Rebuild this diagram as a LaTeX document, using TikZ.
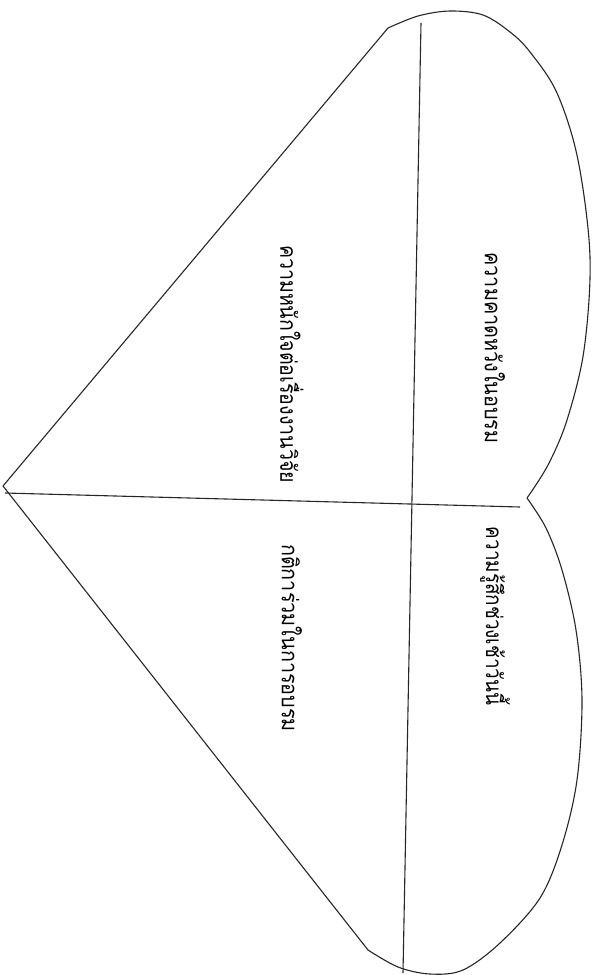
\documentclass[tikz,border=0pt]{standalone}
\usepackage{fontspec}
\newfontfamily\thaifont[Script=Thai]{Loma}
\tikzset{
  outline/.style={draw=black!85, line width=1.1pt, line join=round},
  label/.style={font=\thaifont\fontsize{22.5}{22.5}\selectfont, rotate=-90, inner sep=0pt}
}
\begin{document}
\begin{tikzpicture}[x=1pt,y=-1pt]
\useasboundingbox (0,0) rectangle (601,975);
\fill[white] (0,0) rectangle (601,975);
\coordinate (tip) at (3,486);
\coordinate (ul) at (388,28);
\coordinate (notch) at (527,498);
\coordinate (ll) at (368,950);
\coordinate (hl) at (5,493);
\coordinate (hr) at (520,507);
\coordinate (vt) at (421,23);
\coordinate (vb) at (403,973);
% heart outline
\draw[outline] (tip) -- (ul)
  plot[smooth, tension=0.55] coordinates {(388,28) (418,16) (450,11) (483,15) (510,32) (530,52) (557,93) (578,160) (590,257) (584,350) (567,420) (548,465) (527,498)}
  plot[smooth, tension=0.55] coordinates {(527,498) (546,528) (562,570) (576,630) (582,700) (577,780) (562,845) (540,898) (500,943) (463,970) (430,974) (398,967) (368,950)}
  -- (tip);
% axes
\draw[outline] (hl) -- (hr);
\draw[outline] (vt) -- (vb);
% labels
\node[label] (t1) at (495,348) {\scalebox{0.88}[1]{ความคาดหวังในอบรม}};
\node[label] (t2) at (495,616) {\scalebox{0.84}[1]{ความรู้สึกช่วงเช้าวันนี้}};
\node[label] (t3) at (292,364) {\scalebox{0.87}[1]{ความหนักใจต่อเรื่องงานวิจัย}};
\node[label] (t4) at (292,638) {\scalebox{0.88}[1]{กติการ่วมในการอบรม}};
\end{tikzpicture}
\end{document}
